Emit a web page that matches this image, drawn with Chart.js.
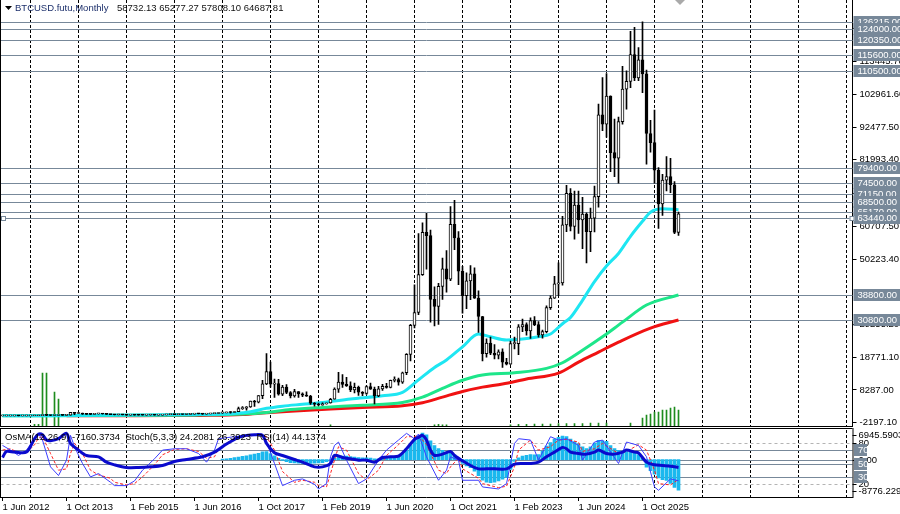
<!DOCTYPE html>
<html><head><meta charset="utf-8">
<script src="https://cdn.jsdelivr.net/npm/chart.js@4/dist/chart.umd.min.js"></script>
<style>
html,body{margin:0;padding:0;background:#fff;width:900px;height:514px;overflow:hidden}
canvas{position:absolute;left:0}
#ca{top:0}
#cb{top:428px}
</style></head><body>
<canvas id="ca" width="900" height="428"></canvas>
<canvas id="cb" width="900" height="86"></canvas>
<script>
// ---------- DATA ----------
const monthNames=['Jan','Feb','Mar','Apr','May','Jun','Jul','Aug','Sep','Oct','Nov','Dec'];
const SLOTS=213; // months shown on the time axis, from Jun 2012 (incl. empty right margin)
const monthLabels=[];
for(let i=0;i<SLOTS;i++){const m=(5+i)%12;const yr=2012+Math.floor((5+i)/12);monthLabels.push('1 '+monthNames[m]+' '+yr);}

const candleOpen=[5.27,6.69,9.35,10.16,12.4,11.2,12.56,
13.51,20.41,33.38,93.03,139.2,128.8,96.6,106.2,135.4,133,204,1128,
754,803,573,458,447,628,640,586,478,388,338,378,
320,217,255,244,236,230,263,284,230,236,314,377,
430,369,437,416,448,532,671,624,573,609,701,742,
966,970,1190,1080,1350,2300,2480,2880,4700,4340,6470,10230,
14150,10180,10300,6900,9240,7480,6390,7730,7030,6630,6330,4030,
3740,3450,3820,4100,5320,8570,10800,10090,9600,8300,9150,7550,
7190,9350,8540,6410,8630,9450,9140,11350,11650,10780,13800,19700,
28950,33100,45200,58800,57700,37300,35040,41460,47100,43800,61300,57000,
46300,38500,43200,45500,37700,31800,19900,23300,20050,19430,20500,17170,
16550,23130,23140,28480,29240,27220,30480,29230,25940,26970,34640,37720,
42280,42580,61130,71290,60640,67500,62700,64600,58980,63300,70200,96400,
93400,102400,84300,82500,94200,104600,107100,115700,108200,114000,109500,90400,
87500,78700,67900,75500,76600,74000,58732.13];
const candleHigh=[6.95,9.63,15.4,12.98,12.93,12.67,13.69,
20.7,34,95.7,266,139.9,129.8,111.2,126.5,146.1,210,1163,1163,
1022,860,700,550,630,680,660,600,500,415,460,385,
320,300,300,260,248,268,317,285,245,334,500,470,
465,447,440,466,550,780,700,625,612,720,755,980,
1150,1210,1350,1350,2790,3000,2940,4750,4980,6480,11400,19900,
17250,11800,11700,9750,9990,7780,8500,7760,7400,7680,6600,4240,
4100,4200,4120,5600,9000,13900,13200,12300,10900,10500,9500,7750,
9600,10500,9200,9450,10080,10400,11450,12480,12100,14000,19900,29300,
41950,58350,61800,64850,59500,41300,42400,50500,52900,67000,69000,59000,
47900,45800,48100,47400,40000,31900,24650,25200,22800,21100,21450,18400,
23900,25250,29200,31000,29800,31400,31800,30200,27500,35200,38400,44700,
48970,63900,73800,72800,71950,71950,70000,65000,66500,73600,99800,108300,
109600,102500,95000,95700,111900,110500,123100,124400,117900,126200,110700,94600,
97900,79500,77300,83000,82500,75000,65277.27];
const candleLow=[5.22,6.64,7.1,9.85,9.99,10.5,12.36,
12.9,19.1,33,50,79.1,88.5,65.5,101.7,119,102,198,400,
740,470,440,340,420,525,570,440,370,275,320,300,
152,211,235,213,226,220,254,198,225,235,310,350,
350,366,393,414,436,512,600,460,567,604,680,740,
750,920,890,1060,1340,2080,1830,2680,2980,4110,5500,10000,
9200,5870,6600,6430,7070,5760,6000,5880,6140,6200,3650,3120,
3350,3380,3700,4080,5320,7500,9100,9400,7700,7300,6500,6420,
6850,8450,3850,6150,8100,8900,8970,10900,9850,10400,13200,17600,
28130,32400,45000,47000,30000,28800,29300,37300,39600,43300,53250,42000,
32900,34300,37200,37600,26700,17600,18800,19600,18200,18200,15500,16300,
16500,21400,19600,26950,25800,24800,28900,25200,24900,26550,34100,37600,
38500,41880,59000,59200,56550,58400,53500,49000,52550,58900,66800,91300,
89200,78200,76600,74500,93400,98200,105100,107300,107300,103500,80600,84400,
74500,60000,64200,72000,71500,58300,57808.10];
const candleClose=[6.69,9.35,10.16,12.4,11.2,12.56,13.51,
20.41,33.38,93.03,139.2,128.8,96.6,106.2,135.4,133,204,1128,754,
803,573,458,447,628,640,586,478,388,338,378,320,
217,255,244,236,230,263,284,230,236,314,377,430,
369,437,416,448,532,671,624,573,609,701,742,966,
970,1190,1080,1350,2300,2480,2880,4700,4340,6470,10230,14150,
10180,10300,6900,9240,7480,6390,7730,7030,6630,6330,4030,3740,
3450,3820,4100,5320,8570,10800,10090,9600,8300,9150,7550,7190,
9350,8540,6410,8630,9450,9140,11350,11650,10780,13800,19700,28950,
33100,45200,58800,57700,37300,35040,41460,47100,43800,61300,57000,46300,
38500,43200,45500,37700,31800,19900,23300,20050,19430,20500,17170,16550,
23130,23140,28480,29240,27220,30480,29230,25940,26970,34640,37720,42280,
42580,61130,71290,60640,67500,62700,64600,58980,63300,70200,96400,93400,
102400,84300,82500,94200,104600,107100,115700,108200,114000,109500,90400,87500,
78700,67900,75500,76600,74000,58732.13,64687.81];

// tick volume (month index, volume)
const tickVolume=[[8,8],[9,8],[10,265],[11,265],[13,170],[14,135],[82,6],[108,6],[109,8],[110,6],[111,6],
[127,6],[129,8],[131,8],[133,10],[135,10],[137,10],[139,12],[141,12],[143,12],[145,12],[147,14],[149,14],[151,14],
[157,15],[160,40],[161,55],[162,60],[163,70],[164,70],[165,80],[166,80],[167,90],[168,95],[169,80]];

// moving averages (month index, value)
const maFast=[[0,6],[12,40],[24,180],[36,300],[48,380],[54,500],[58,750],[62,1300],[66,2400],[70,3100],[75,3700],[80,4300],[87,5400],[95,6400],[100,7500],[104,11500],[108,15500],[111,17900],[115,22100],[119,26200],[122,25300],[126,24300],[130,24600],[134,25300],[137,26200],[140,29500],[142,31500],[145,37000],[148,43000],[151,48000],[154,52000],[157,57500],[160,62300],[162,65200],[165,66300],[169,66000]];
const maMid=[[0,5],[24,100],[36,200],[48,280],[60,600],[66,1100],[72,2000],[80,2700],[90,3400],[100,4300],[105,6000],[110,8800],[115,11400],[120,13100],[128,13800],[136,15200],[140,17000],[145,21000],[150,25300],[155,30000],[161,35500],[169,38700]];
const maSlow=[[16,2],[30,40],[42,80],[52,150],[60,450],[66,1000],[72,1500],[82,2200],[90,2700],[100,3200],[105,4200],[110,6000],[115,7800],[120,9200],[125,10200],[131,11800],[139,13700],[144,17200],[149,20400],[154,23600],[162,28100],[169,30700]];

// horizontal levels
const levelPrices=[126215,124000,120350,115600,110500,79400,74500,71150,68500,65170,63440,38800,30800];
const priceTicks=[-2197.1,8287.0,18771.1,29255.2,50223.4,60707.5,71191.6,81993.4,92477.5,102961.6,113445.7,123929.8];

// lower window
const osmaValues=[[55,100],[56,200],[57,300],[58,450],[59,600],[60,750],[61,900],[62,1100],[63,1300],[64,1500],[65,1800],[66,1900],[67,1400],[68,900],[69,300],[70,-200],[71,-500],[72,-700],[73,-800],[74,-850],[75,-900],[76,-900],[77,-900],[78,-850],[79,-800],[80,-700],[81,-500],[82,-200],[83,300],[84,600],[85,800],[86,800],[87,700],[88,600],[89,500],[90,400],[91,400],[92,350],[93,200],[94,200],[95,300],[96,400],[97,500],[98,700],[99,900],[100,1400],[101,2200],[102,3400],[103,4500],[104,5600],[105,6200],[106,5800],[107,4400],[108,3300],[109,2600],[110,2200],[111,1600],[112,1500],[113,1100],[114,300],[115,-900],[116,-1500],[117,-1900],[118,-2700],[119,-3800],[120,-4800],[121,-5300],[122,-5400],[123,-5300],[124,-5000],[125,-4600],[126,-4200],[127,-2300],[128,-400],[129,400],[130,800],[131,1000],[132,1200],[133,1100],[134,1200],[135,2000],[136,3200],[137,4000],[138,4800],[139,5200],[140,5500],[141,5400],[142,4800],[143,4200],[144,3700],[145,3000],[146,2600],[147,3000],[148,3900],[149,4500],[150,4400],[151,4300],[152,3300],[153,2600],[154,2200],[155,2000],[156,1900],[157,1800],[158,1500],[159,1200],[160,300],[161,-1800],[162,-2600],[163,-3400],[164,-4300],[165,-4700],[166,-4900],[167,-5600],[168,-6500],[169,-7160.3734]];
const stochMain=[[0,77],[2,70],[4,62],[6,70],[8,87],[9,94],[10,85],[12,45],[14,32],[16,55],[17,92],[18,75],[20,50],[22,30],[24,35],[27,22],[28,17],[31,17],[33,24],[35,40],[38,57],[40,70],[43,72],[46,72],[49,65],[51,52],[53,70],[54,87],[58,90],[61,92],[65,94],[66,82],[68,50],[70,17],[73,25],[75,27],[78,19],[79,12],[81,20],[82,60],[83,77],[84,82],[86,55],[89,20],[91,27],[94,55],[96,70],[99,85],[101,95],[103,87],[104,94],[106,60],[109,25],[111,40],[112,60],[114,55],[115,25],[119,25],[120,15],[124,12],[126,20],[128,80],[129,87],[132,85],[134,55],[137,90],[139,85],[141,87],[144,77],[145,55],[148,82],[150,85],[154,50],[156,82],[159,77],[161,60],[163,15],[164,10],[167,27],[169,24.2081]];
const stochSignal=[[0,70],[2,72],[4,66],[6,66],[8,78],[9,88],[10,90],[12,65],[14,40],[16,42],[17,65],[18,80],[20,65],[22,40],[24,33],[27,28],[28,22],[31,18],[33,20],[35,30],[38,48],[40,63],[43,71],[46,72],[49,68],[51,58],[53,60],[54,72],[58,88],[61,91],[65,93],[66,90],[68,70],[70,38],[73,22],[75,25],[78,22],[79,17],[81,15],[82,35],[83,55],[84,75],[86,70],[89,35],[91,25],[94,40],[96,62],[99,78],[101,90],[103,90],[104,92],[106,78],[109,40],[111,35],[112,45],[114,58],[115,42],[119,28],[120,20],[124,14],[126,16],[128,45],[129,70],[132,85],[134,70],[137,75],[139,85],[141,86],[144,82],[145,68],[148,72],[150,80],[154,65],[156,68],[159,78],[161,70],[163,40],[164,20],[167,18],[169,26.3923]];
const rsiValues=[[0,59],[1,68],[3,67],[6,67],[8,87],[9,94],[10,93],[11,85],[12,84],[14,87],[16,95],[17,80],[19,70],[21,62],[24,60],[26,52],[28,48],[31,44],[34,44],[37,45],[40,47],[43,53],[46,56],[50,60],[53,67],[56,79],[59,89],[61,92],[63,93],[65,92],[66,80],[68,66],[70,62],[73,56],[75,52],[78,45],[80,45],[82,50],[83,62],[85,59],[87,57],[89,55],[91,55],[93,52],[95,59],[97,60],[99,61],[101,72],[103,86],[104,89],[105,92],[106,85],[107,70],[108,62],[110,64],[112,68],[113,62],[115,54],[117,47],[119,42],[121,42],[123,42],[126,42],[128,49],[130,50],[132,50],[134,52],[136,60],[138,67],[140,74],[141,72],[142,67],[144,65],[146,64],[148,67],[149,70],[151,65],[153,64],[155,67],[156,70],[158,67],[159,66],[161,52],[163,48],[165,47],[167,46],[169,44.1374]];
const osmaRange=[-8776.2297,6945.5903];

// ---------- BUILD ----------
const FONT='"Liberation Sans", Arial, sans-serif';
const LEVEL_COLOR='#778899';
function toSeries(pairs){const a=new Array(SLOTS).fill(null);pairs.forEach(([i,v])=>{a[i]=v;});return a;}
const wickData=candleHigh.map((h,i)=>[candleLow[i],h]);
const bodyData=candleOpen.map((o,i)=>[o,candleClose[i]]);
const bodyColors=candleOpen.map((o,i)=>candleClose[i]>=o?'#ffffff':'#000000');
const isJan=i=>(5+i)%12===0;

function drawSeparators(chart){
  const {ctx,chartArea:a,scales:{x}}=chart;
  ctx.save();ctx.strokeStyle='#000';ctx.lineWidth=1;ctx.setLineDash([3,2]);
  for(let i=0;i<SLOTS;i++){if(isJan(i)){const px=Math.floor(x.getPixelForValue(i))+0.5;ctx.beginPath();ctx.moveTo(px,a.top);ctx.lineTo(px,a.bottom);ctx.stroke();}}
  ctx.restore();
}
function box(ctx,x,y,w,text){
  ctx.fillStyle=LEVEL_COLOR;ctx.fillRect(x,Math.round(y)-6,w,12);
  ctx.fillStyle='#ffffff';ctx.textBaseline='middle';ctx.textAlign='left';ctx.fillText(text,x+4,Math.round(y)+0.5);
}

const mainPlugin={id:'mainDeco',
  beforeDatasetsDraw(chart){
    drawSeparators(chart);
    const {ctx,chartArea:a,scales:{y}}=chart;
    ctx.save();ctx.strokeStyle=LEVEL_COLOR;ctx.lineWidth=1;
    levelPrices.forEach(p=>{const py=Math.round(y.getPixelForValue(p))+0.5;ctx.beginPath();ctx.moveTo(a.left,py);ctx.lineTo(a.right,py);ctx.stroke();});
    ctx.restore();
  },
  afterDraw(chart){
    const {ctx,chartArea:a,scales:{y}}=chart;
    ctx.save();
    ctx.font='9.5px '+FONT;
    levelPrices.forEach(p=>{box(ctx,a.right+1,y.getPixelForValue(p),48,p.toFixed(2));});
    const hy=Math.round(y.getPixelForValue(63440));
    ctx.fillStyle='#fff';ctx.strokeStyle=LEVEL_COLOR;
    ctx.fillRect(1,hy-2,5,5);ctx.strokeRect(1.5,hy-1.5,4,4);
    ctx.fillRect(a.right-3,hy-2,5,5);ctx.strokeRect(a.right-2.5,hy-1.5,4,4);
    ctx.strokeStyle='#000';ctx.lineWidth=1;
    ctx.beginPath();ctx.moveTo(0,a.bottom+0.5);ctx.lineTo(a.right,a.bottom+0.5);ctx.stroke();
    ctx.beginPath();ctx.moveTo(0.5,0);ctx.lineTo(0.5,a.bottom);ctx.stroke();
    ctx.fillStyle='#a9a9a9';ctx.beginPath();ctx.moveTo(675,0);ctx.lineTo(685,0);ctx.lineTo(680,5);ctx.closePath();ctx.fill();
    ctx.fillStyle='#000';ctx.beginPath();ctx.moveTo(5,6);ctx.lineTo(12,6);ctx.lineTo(8.5,10);ctx.closePath();ctx.fill();
    ctx.textBaseline='middle';ctx.textAlign='left';
    ctx.fillStyle='#1c2f6b';ctx.fillText('BTCUSD.futu,Monthly',15,8.5);
    ctx.fillStyle='#111';ctx.fillText('58732.13 65277.27 57808.10 64687.81',117,8.5);
    ctx.restore();
  }
};

Chart.defaults.font.family=FONT;
new Chart(document.getElementById('ca'),{
  type:'bar',
  data:{labels:monthLabels,datasets:[
    {type:'line',data:toSeries(maFast),borderColor:'#1ee6f2',borderWidth:3,pointRadius:0,spanGaps:true,cubicInterpolationMode:'monotone',order:5},
    {type:'line',data:toSeries(maMid),borderColor:'#1de68a',borderWidth:3,pointRadius:0,spanGaps:true,cubicInterpolationMode:'monotone',order:6},
    {type:'line',data:toSeries(maSlow),borderColor:'#f01212',borderWidth:3,pointRadius:0,spanGaps:true,cubicInterpolationMode:'monotone',order:7},
    {type:'bar',data:toSeries(tickVolume),yAxisID:'yv',backgroundColor:'#1e8c1e',barThickness:1,grouped:false,order:8},
    {type:'bar',data:wickData,backgroundColor:'#000',barThickness:1,grouped:false,order:2},
    {type:'bar',data:bodyData,backgroundColor:bodyColors,borderColor:'#000',borderWidth:1,borderSkipped:false,barThickness:3,minBarLength:1,grouped:false,order:1}
  ]},
  options:{
    responsive:false,animation:false,devicePixelRatio:1,
    layout:{padding:{left:0.5,right:0,top:0,bottom:2}},
    plugins:{legend:{display:false},tooltip:{enabled:false}},
    scales:{
      x:{type:'category',display:false,offset:true,grid:{display:false}},
      y:{position:'right',min:-3254,max:133164,
        afterBuildTicks:s=>{s.ticks=priceTicks.map(v=>({value:v}));},
        afterFit:s=>{s.width=47.5;s.paddingTop=0;s.paddingBottom=0;},
        ticks:{callback:v=>Number(v).toFixed(2),color:'#000',font:{size:9.5},padding:3,autoSkip:false,maxRotation:0},
        grid:{drawOnChartArea:false,drawTicks:true,tickLength:4,color:'#000'},
        border:{display:true,color:'#000',width:1}},
      yv:{display:false,min:0,max:2130}
    }
  },
  plugins:[mainPlugin]
});

const lowerPlugin={id:'lowerDeco',
  beforeDatasetsDraw(chart){
    drawSeparators(chart);
    const {ctx,chartArea:a,scales:{ys,yo}}=chart;
    ctx.save();ctx.lineWidth=1;
    ctx.strokeStyle='#b4b4b4';ctx.setLineDash([3,3]);
    [80,20].forEach(v=>{const py=Math.round(ys.getPixelForValue(v))+0.5;ctx.beginPath();ctx.moveTo(a.left,py);ctx.lineTo(a.right,py);ctx.stroke();});
    ctx.setLineDash([]);ctx.strokeStyle=LEVEL_COLOR;
    [70,50,30].forEach(v=>{const py=Math.round(ys.getPixelForValue(v))+0.5;ctx.beginPath();ctx.moveTo(a.left,py);ctx.lineTo(a.right,py);ctx.stroke();});
    const zy=Math.round(yo.getPixelForValue(0))+0.5;ctx.beginPath();ctx.moveTo(a.left,zy);ctx.lineTo(a.right,zy);ctx.stroke();
    ctx.restore();
  },
  afterDraw(chart){
    const {ctx,chartArea:a,scales:{ys,yo}}=chart;
    ctx.save();ctx.font='9.5px '+FONT;ctx.strokeStyle='#000';ctx.lineWidth=1;
    ctx.beginPath();ctx.moveTo(0,0.5);ctx.lineTo(a.right,0.5);ctx.stroke();
    ctx.beginPath();ctx.moveTo(0.5,0);ctx.lineTo(0.5,a.bottom);ctx.stroke();
    ctx.beginPath();ctx.moveTo(a.right+0.5,0);ctx.lineTo(a.right+0.5,a.bottom+1);ctx.stroke();
    ctx.fillStyle='#000';ctx.textAlign='left';ctx.textBaseline='middle';
    const lab=(t,py)=>{ctx.beginPath();ctx.moveTo(a.right,Math.round(py)+0.5);ctx.lineTo(a.right+4,Math.round(py)+0.5);ctx.stroke();ctx.fillText(t,a.right+6,Math.round(py)+0.5);};
    lab(osmaRange[1].toFixed(4),a.top+4.5);
    lab('80',ys.getPixelForValue(80));
    lab('0.00',yo.getPixelForValue(0));
    lab('20',ys.getPixelForValue(20));
    lab(osmaRange[0].toFixed(4),a.bottom-6.5);
    [70,50,30].forEach(v=>box(ctx,a.right+1.5,ys.getPixelForValue(v),13,String(v)));
    ctx.fillStyle='#000';
    ctx.fillText('OsMA(12,26,9) -7160.3734  Stoch(5,3,3) 24.2081 26.3923  RSI(14) 44.1374',5,a.top+7);
    ctx.restore();
  }
};

new Chart(document.getElementById('cb'),{
  type:'bar',
  data:{labels:monthLabels,datasets:[
    {type:'line',data:toSeries(rsiValues),yAxisID:'ys',borderColor:'#0a0acd',borderWidth:3,pointRadius:0,spanGaps:true,tension:0.3,order:1},
    {type:'line',data:toSeries(stochMain),yAxisID:'ys',borderColor:'#3c3cff',borderWidth:1,pointRadius:0,spanGaps:true,order:2},
    {type:'line',data:toSeries(stochSignal),yAxisID:'ys',borderColor:'#ff2020',borderWidth:1,borderDash:[3,2],pointRadius:0,spanGaps:true,order:3},
    {type:'bar',data:toSeries(osmaValues),yAxisID:'yo',backgroundColor:'#1ab8ee',barThickness:3,grouped:false,order:4}
  ]},
  options:{
    responsive:false,animation:false,devicePixelRatio:1,
    layout:{padding:{left:0.5,right:47.5,top:2,bottom:0}},
    plugins:{legend:{display:false},tooltip:{enabled:false}},
    scales:{
      x:{type:'category',offset:true,position:'bottom',
        afterFit:s=>{s.height=17;},
        ticks:{autoSkip:false,maxRotation:0,minRotation:0,align:'start',padding:1,color:'#000',font:{size:9.5},
          callback:(v,i)=>(i%16===0&&i<=160)?monthLabels[i]:''},
        grid:{offset:false,drawOnChartArea:false,drawTicks:true,tickLength:4,color:c=>(c.index%16===0&&c.index<=160)?'#000':'rgba(0,0,0,0)'},
        border:{display:true,color:'#000',width:1}},
      ys:{display:false,min:0,max:100},
      yo:{display:false,min:osmaRange[0],max:osmaRange[1]}
    }
  },
  plugins:[lowerPlugin]
});
</script></body></html>
